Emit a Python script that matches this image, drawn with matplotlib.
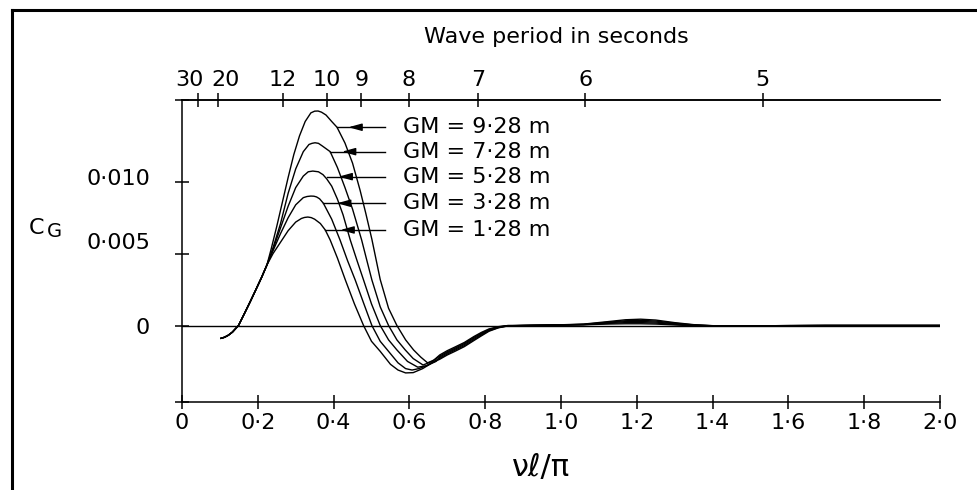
import matplotlib.pyplot as plt
from matplotlib.lines import Line2D
from matplotlib.transforms import ScaledTranslation

plt.rcParams['font.family'] = ['DejaVu Sans']

# lead-in where all five curves coincide
lead_x = [0.103, 0.112, 0.122, 0.133, 0.149, 0.165, 0.18, 0.195, 0.21, 0.224]
lead_cg = [-0.00089, -0.00082, -0.00068, -0.00046, 0.0, 0.00085, 0.00166, 0.0025, 0.00335, 0.00421]

# main hump, one list per GM
x_128 = [0.24, 0.26, 0.28, 0.30, 0.315, 0.323, 0.332, 0.341, 0.35, 0.365, 0.378, 0.391, 0.41, 0.431,
         0.455, 0.479, 0.50, 0.523, 0.55, 0.57, 0.59, 0.61, 0.635, 0.66]
cg_128 = [0.0050, 0.0058, 0.0066, 0.0072, 0.00745, 0.00752, 0.00755, 0.00751, 0.0074, 0.0071, 0.00665,
          0.00595, 0.0047, 0.00317, 0.0015, 0.0, -0.0011, -0.0018, -0.0027, -0.0031, -0.0033, -0.00328,
          -0.0030, -0.0026]

x_328 = [0.24, 0.26, 0.28, 0.30, 0.32, 0.33, 0.34, 0.348, 0.355, 0.363, 0.373, 0.395, 0.417, 0.437,
         0.457, 0.48, 0.501, 0.523, 0.545, 0.57, 0.59, 0.607, 0.625, 0.645, 0.665]
cg_328 = [0.0052, 0.0064, 0.0075, 0.0084, 0.0089, 0.00898, 0.00901, 0.0090, 0.00895, 0.00882, 0.00851,
          0.0074, 0.00595, 0.0045, 0.00317, 0.0015, 0.0, -0.0011, -0.0018, -0.0026, -0.0030, -0.0031,
          -0.0030, -0.0028, -0.0025]

x_528 = [0.24, 0.26, 0.28, 0.30, 0.32, 0.333, 0.345, 0.36, 0.372, 0.382, 0.395, 0.41, 0.425, 0.444,
         0.462, 0.479, 0.50, 0.523, 0.545, 0.567, 0.595, 0.622, 0.645, 0.67]
cg_528 = [0.0053, 0.0068, 0.0083, 0.0096, 0.0104, 0.0107, 0.01075, 0.0107, 0.0105, 0.0102, 0.0097,
          0.0088, 0.0077, 0.00595, 0.0045, 0.00317, 0.0015, 0.0, -0.0010, -0.0017, -0.0025, -0.0029,
          -0.0028, -0.0025]

x_728 = [0.24, 0.26, 0.28, 0.30, 0.32, 0.335, 0.343, 0.351, 0.36, 0.37, 0.391, 0.41, 0.43, 0.45,
         0.474, 0.488, 0.501, 0.523, 0.545, 0.567, 0.589, 0.61, 0.636, 0.66]
cg_728 = [0.0054, 0.0071, 0.0092, 0.0109, 0.0121, 0.0126, 0.01268, 0.01272, 0.01268, 0.0125, 0.0121,
          0.0110, 0.0096, 0.0081, 0.00595, 0.0045, 0.00317, 0.0013, 0.0, -0.0010, -0.0017, -0.0023,
          -0.00275, -0.0025]

x_928 = [0.235, 0.25, 0.265, 0.28, 0.295, 0.31, 0.325, 0.34, 0.35, 0.359, 0.368, 0.38, 0.395, 0.409,
         0.43, 0.45, 0.47, 0.485, 0.501, 0.523, 0.545, 0.567, 0.59, 0.611, 0.63, 0.648, 0.665]
cg_928 = [0.0053, 0.0069, 0.0086, 0.0103, 0.0119, 0.0132, 0.0142, 0.0148, 0.01492, 0.01493, 0.01485,
          0.01465, 0.0142, 0.0138, 0.0127, 0.0113, 0.0094, 0.0078, 0.0060, 0.0032, 0.0012, 0.0, -0.0010,
          -0.0017, -0.0022, -0.0026, -0.0024]

# tail, shared x
tail_x = [0.68, 0.70, 0.72, 0.745, 0.77, 0.79, 0.81, 0.835, 0.86, 0.9, 1.0, 1.06, 1.12, 1.17,
          1.21, 1.25, 1.30, 1.35, 1.42, 1.5, 1.7, 2.0]
tail_128 = [-0.00235, -0.00205, -0.0018, -0.00147, -0.00105, -0.00072, -0.0004, -0.00016, -0.00003, 0.0,
            0.00003, 0.00005, 0.0001, 0.00012, 0.00012, 0.0001, 0.00004, -0.00002, -0.00004, -0.00002, 0.0, 0.0]
tail_328 = [-0.00228, -0.00198, -0.00172, -0.0014, -0.00098, -0.00066, -0.00036, -0.00014, -0.00002, 0.0,
            0.00003, 0.00006, 0.00014, 0.0002, 0.0002, 0.00017, 0.00008, 0.0, -0.00004, -0.00002, 0.0, 0.0]
tail_528 = [-0.0022, -0.0019, -0.00165, -0.00132, -0.0009, -0.0006, -0.00032, -0.00012, -0.00002, 0.0,
            0.00004, 0.00007, 0.00018, 0.00027, 0.00028, 0.00024, 0.00012, 0.00002, -0.00004, -0.00002, 0.0, 0.0]
tail_728 = [-0.00213, -0.00183, -0.00158, -0.00125, -0.00083, -0.00054, -0.00028, -0.0001, -0.00001, 0.0,
            0.00004, 0.00008, 0.00022, 0.00033, 0.00036, 0.00031, 0.00016, 0.00004, -0.00004, -0.00002, 0.0, 0.0]
tail_928 = [-0.00205, -0.00175, -0.0015, -0.00118, -0.00077, -0.00048, -0.00024, -0.00008, 0.0, 0.0,
            0.00005, 0.0001, 0.00026, 0.0004, 0.00044, 0.00038, 0.0002, 0.00006, -0.00004, -0.00002, 0.0, 0.0]

gm_labels = ['GM = 9·28 m', 'GM = 7·28 m', 'GM = 5·28 m', 'GM = 3·28 m', 'GM = 1·28 m']
label_y = [0.0138, 0.0121, 0.01036, 0.00851, 0.00665]
arrow_x = [0.409, 0.391, 0.382, 0.373, 0.378]      # where each pointer meets its curve
head_x = [0.439, 0.422, 0.413, 0.409, 0.418]

periods = [30, 20, 12, 10, 9, 8, 7, 6, 5]
C_DEEP = 38.3   # nu*l/pi = C / T^2
x_ticks = [0, 0.2, 0.4, 0.6, 0.8, 1.0, 1.2, 1.4, 1.6, 1.8, 2.0]
x_ticklabels = ['0', '0·2', '0·4', '0·6', '0·8', '1·0', '1·2', '1·4', '1·6', '1·8', '2·0']
y_lo, y_hi = -0.00529, 0.01573

fig = plt.figure(figsize=(9.77, 4.90), dpi=100)
ax = fig.add_axes([0.1863, 0.1806, 0.7758, 0.6163])

curves = [(x_928, cg_928, tail_928), (x_728, cg_728, tail_728), (x_528, cg_528, tail_528),
          (x_328, cg_328, tail_328), (x_128, cg_128, tail_128)]
for xm, cm, tl in curves:
    ax.plot(lead_x + xm + tail_x, lead_cg + cm + tl, color='k', lw=1.0)

ax.axhline(0, color='k', lw=1.0)

# pointers and labels
for lab, y, xa, xh in zip(gm_labels, label_y, arrow_x, head_x):
    ax.plot([xa, 0.535], [y, y], color='k', lw=1.0)
    ax.annotate('', xy=(xh, y), xytext=(xh + 0.03, y),
                arrowprops=dict(arrowstyle='-|>,head_length=0.8,head_width=0.22',
                                color='k', lw=1.0, shrinkA=0, shrinkB=0, mutation_scale=10))
    ax.text(0.583, y, lab, fontsize=16, va='center', ha='left')

ax.set_xlim(0, 2.0)
ax.set_ylim(y_lo, y_hi)
ax.spines['right'].set_visible(False)
for s in ['left', 'bottom', 'top']:
    ax.spines[s].set_linewidth(1.1)

ax.set_xticks(x_ticks, x_ticklabels)
ax.set_yticks([y_lo, 0, 0.005, 0.010, y_hi], ['', '0', '0·005', '0·010', ''])
ax.tick_params(axis='x', direction='inout', length=10, width=1.1, labelsize=16, pad=3)
ax.tick_params(axis='y', direction='inout', length=10, width=1.1, labelsize=16, pad=18)

# nudge the 0.005 / 0.010 labels up like in the printed figure
for lbl, dy in zip(ax.get_yticklabels()[2:4], [9, 3.5]):
    lbl.set_transform(lbl.get_transform() + ScaledTranslation(0, dy / 72, fig.dpi_scale_trans))

# period scale on top
top = ax.secondary_xaxis('top')
top.set_xticks([C_DEEP / t ** 2 for t in periods], [str(t) for t in periods])
top.tick_params(axis='x', direction='inout', length=10, width=1.1, labelsize=16, pad=2)
top.spines['top'].set_linewidth(1.1)
for lbl, dx in zip(top.get_xticklabels()[:2], [-6.5, 5.0]):
    lbl.set_transform(lbl.get_transform() + ScaledTranslation(dx / 72, 0, fig.dpi_scale_trans))

fig.text(0.569, 0.9245, 'Wave period in seconds', fontsize=16, ha='center', va='center')
fig.text(0.5537, 0.045, 'νℓ/π', fontsize=22, ha='center', va='center')
fig.text(0.0375, 0.5345, 'C', fontsize=16, ha='center', va='center')
fig.text(0.0555, 0.5275, 'G', fontsize=14, ha='center', va='center')

# page frame (left and top edges)
fig.add_artist(Line2D([0.012, 0.012], [0.0, 0.98], transform=fig.transFigure, color='k', lw=2.2))
fig.add_artist(Line2D([0.012, 1.0], [0.98, 0.98], transform=fig.transFigure, color='k', lw=2.2))

fig.savefig('out.png', dpi=100)
